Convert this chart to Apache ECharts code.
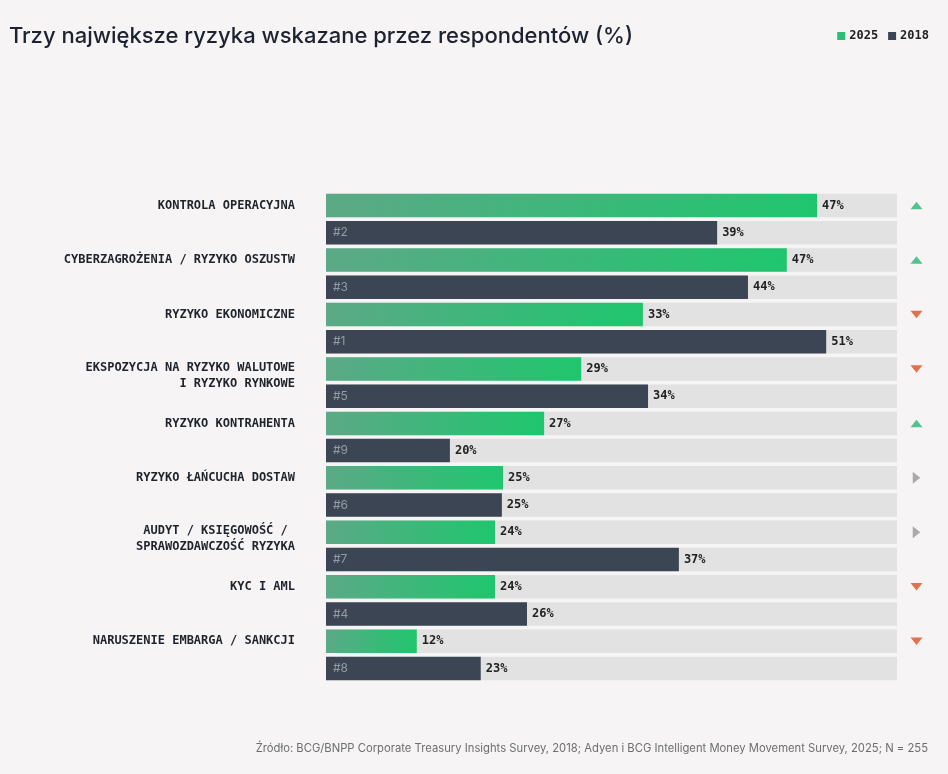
<!DOCTYPE html>
<html>
<head>
<meta charset="utf-8">
<script src="https://cdn.jsdelivr.net/npm/echarts@6/dist/echarts.min.js"></script>
<style>
html,body{margin:0;padding:0;background:#f6f4f4;}
#chart{width:948px;height:774px;}
</style>
</head>
<body>
<div id="chart"></div>
<script>
// ---- data ----
const categories = [
  'KONTROLA OPERACYJNA',
  'CYBERZAGROŻENIA / RYZYKO OSZUSTW',
  'RYZYKO EKONOMICZNE',
  'EKSPOZYCJA NA RYZYKO WALUTOWE\nI RYZYKO RYNKOWE',
  'RYZYKO KONTRAHENTA',
  'RYZYKO ŁAŃCUCHA DOSTAW',
  'AUDYT / KSIĘGOWOŚĆ / \nSPRAWOZDAWCZOŚĆ RYZYKA',
  'KYC I AML',
  'NARUSZENIE EMBARGA / SANKCJI'
];
// printed values (%)
const values2025 = [47, 47, 33, 29, 27, 25, 24, 24, 12];
const values2018 = [39, 44, 51, 34, 20, 25, 37, 26, 23];
// drawn bar lengths (share of the full track, 0-100)
const len2025 = [86.0, 80.7, 55.5, 44.7, 38.2, 31.0, 29.6, 29.6, 15.9];
const len2018 = [68.5, 73.9, 87.6, 56.4, 21.7, 30.8, 61.8, 35.2, 27.1];
const rank2018 = [2, 3, 1, 5, 9, 6, 7, 4, 8];
const trend = ['up', 'up', 'down', 'down', 'up', 'flat', 'flat', 'down', 'down'];
const trackMax = 100;
const legendNames = ['2025', '2018'];
const sourceText = 'Źródło: BCG/BNPP Corporate Treasury Insights Survey, 2018; Adyen i BCG Intelligent Money Movement Survey, 2025; N = 255';
const titleText = 'Trzy największe ryzyka wskazane przez respondentów (%)';

// ---- build ----
const GREEN = '#2dbd76', DARK = '#3b4553', TRACK = '#e2e2e2';
const slots = [];
categories.forEach((c, i) => { slots.push('g' + i); slots.push('d' + i); });
const n = slots.length;
const greenData = [], darkData = [], trackData = [];
for (let i = 0; i < categories.length; i++) {
  greenData.push(len2025[i], '-');
  darkData.push('-', len2018[i]);
}
for (let k = 0; k < n; k++) trackData.push(trackMax);

const trendStyle = {
  up: {color: '#27b777', rot: 0},
  down: {color: '#dc5124', rot: 180},
  flat: {color: '#979797', rot: -90}
};
const gridLeft = 326, gridRight = 0, trackEnd = 897, arrowX = 916.5;
const axisMax = trackMax * (948 - gridLeft - gridRight) / (trackEnd - gridLeft);
const arrowVal = trackMax * (arrowX - gridLeft) / (trackEnd - gridLeft);
const arrowData = trend.map((t, i) => ({
  value: [arrowVal, 2 * i],
  symbolRotate: trendStyle[t].rot,
  itemStyle: {color: trendStyle[t].color}
}));

const mono = '"DejaVu Sans Mono", monospace';
const BW = 23.5;

const chart = echarts.init(document.getElementById('chart'));
chart.setOption({
  backgroundColor: '#f6f4f4',
  animation: false,
  title: [{
    text: titleText, left: 4, top: 20,
    textStyle: {fontFamily: 'Inter', fontSize: 22, fontWeight: 500, color: '#1c2230'}
  }, {
    text: sourceText, right: 15, top: 738,
    textStyle: {fontFamily: 'Inter', fontSize: 11.25, fontWeight: 'normal', color: '#6e6e6e'}
  }],
  legend: {
    right: 14, top: 25, itemWidth: 8, itemHeight: 8, itemGap: 10, icon: 'rect',
    data: [{name: legendNames[0], itemStyle: {color: GREEN}}, {name: legendNames[1], itemStyle: {color: DARK}}],
    textStyle: {fontFamily: mono, fontSize: 12, fontWeight: 'bold', color: '#222', padding: [0, 0, 0, -1]},
    selectedMode: false
  },
  grid: {left: gridLeft, right: gridRight, top: 192, bottom: 92},
  xAxis: {type: 'value', min: 0, max: axisMax, show: false},
  yAxis: {
    type: 'category', inverse: true, data: slots,
    axisLine: {show: false}, axisTick: {show: false}, splitLine: {show: false},
    axisLabel: {
      margin: 31, interval: 0,
      fontFamily: mono, fontSize: 12, fontWeight: 'bold', color: '#1f232b',
      formatter: function (v) {
        if (v[0] !== 'g') return '';
        const t = categories[+v.slice(1)];
        const parts = t.split('\n');
        if (parts.length === 1) return t;
        return '{s| }\n' + parts.map(p => '{a|' + p + '}').join('\n');
      },
      rich: {
        s: {lineHeight: 13, fontSize: 1},
        a: {lineHeight: 16, fontFamily: mono, fontSize: 12, fontWeight: 'bold', color: '#1f232b', align: 'right'}
      }
    }
  },
  series: [{
    name: 'track', type: 'bar', data: trackData, barWidth: BW, barGap: '-100%', silent: true, z: 1,
    itemStyle: {color: TRACK}
  }, {
    name: legendNames[0], type: 'bar', data: greenData, barWidth: BW, barGap: '-100%', z: 2,
    itemStyle: {
      color: new echarts.graphic.LinearGradient(0, 0, 1, 0, [
        {offset: 0, color: '#5ca987'}, {offset: 1, color: '#1fc66e'}
      ])
    },
    label: {
      show: true, position: 'right', distance: 5,
      fontFamily: mono, fontSize: 12, fontWeight: 'bold', color: '#222',
      formatter: p => values2025[p.dataIndex / 2] + '%'
    }
  }, {
    name: legendNames[1], type: 'bar', data: darkData, barWidth: BW, barGap: '-100%', z: 2,
    itemStyle: {color: DARK},
    label: {
      show: true, position: 'right', distance: 5,
      fontFamily: mono, fontSize: 12, fontWeight: 'bold', color: '#222',
      formatter: p => values2018[(p.dataIndex - 1) / 2] + '%'
    }
  }, {
    name: 'rank', type: 'bar', data: darkData, barWidth: BW, barGap: '-100%', z: 3, silent: true,
    itemStyle: {color: 'rgba(0,0,0,0)'},
    label: {
      show: true, position: 'insideLeft', distance: 7,
      fontFamily: 'Inter', fontSize: 12, color: '#949ba4',
      formatter: p => '#' + rank2018[(p.dataIndex - 1) / 2]
    }
  }, {
    name: 'trend', type: 'scatter', data: arrowData, symbol: 'triangle', symbolSize: [12, 7.5],
    silent: true, z: 4
  }]
});
</script>
</body>
</html>
